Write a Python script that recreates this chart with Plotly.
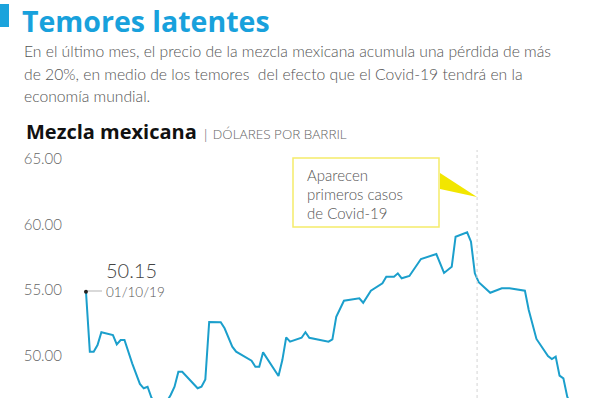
import pandas as pd
import plotly.graph_objects as go

# ---- data ----
dates = [
    "2019-10-01", "2019-10-02", "2019-10-03", "2019-10-04", "2019-10-05", "2019-10-08",
    "2019-10-09", "2019-10-10", "2019-10-11", "2019-10-13", "2019-10-15", "2019-10-16",
    "2019-10-17", "2019-10-18", "2019-10-20", "2019-10-22", "2019-10-23", "2019-10-24",
    "2019-10-25", "2019-10-26", "2019-10-30", "2019-10-31", "2019-11-01", "2019-11-02",
    "2019-11-05", "2019-11-06", "2019-11-08", "2019-11-09", "2019-11-13", "2019-11-14",
    "2019-11-15", "2019-11-16", "2019-11-20", "2019-11-21", "2019-11-22", "2019-11-23",
    "2019-11-26", "2019-11-27", "2019-11-28", "2019-12-03", "2019-12-04", "2019-12-05",
    "2019-12-07", "2019-12-11", "2019-12-12", "2019-12-14", "2019-12-17", "2019-12-18",
    "2019-12-20", "2019-12-21", "2019-12-22", "2019-12-24", "2019-12-27", "2019-12-31",
    "2020-01-02", "2020-01-04", "2020-01-05", "2020-01-08", "2020-01-09", "2020-01-10",
    "2020-01-11", "2020-01-14", "2020-01-17", "2020-01-19", "2020-01-23", "2020-01-24",
    "2020-01-26", "2020-01-29", "2020-01-30", "2020-01-31", "2020-02-01", "2020-02-02",
    "2020-02-03", "2020-02-04",
]
prices = [
    54.87, 50.30, 50.30, 50.81, 51.78, 51.57,
    50.86, 51.19, 51.19, 49.41, 47.84, 47.51,
    47.63, 46.80, 46.05, 46.50, 47.00, 47.63,
    48.77, 48.77, 47.51, 47.63, 48.19, 52.56,
    52.54, 52.08, 50.68, 50.30, 49.61, 49.15,
    49.15, 50.25, 48.45, 49.66, 51.39, 51.06,
    51.36, 51.78, 51.36, 51.06, 51.24, 52.96,
    54.18, 54.37, 54.03, 54.95, 55.51, 56.01,
    56.01, 56.27, 55.89, 56.07, 57.36, 57.74,
    56.30, 56.78, 59.06, 59.40, 58.68, 56.27,
    55.59, 54.79, 55.13, 55.13, 54.95, 53.48,
    51.27, 49.97, 49.74, 49.92, 48.47, 48.27,
    46.87, 46.20,
]
y_ticks = [50, 55, 60, 65]
covid_date = "2020-01-10 14:00"

title = "Temores latentes"
desc_lines = [
    "En el último mes, el precio de la mezcla mexicana acumula una pérdida de más",
    "de 20%, en medio de los temores  del efecto que el Covid-19 tendrá en la",
    "economía mundial.",
]
callout_lines = ["Aparecen", "primeros casos", "de Covid-19"]

W, H = 598, 398
L, T = 66, 150
PW, PH = W - L, H - T


def px(x):
    return (x - L) / PW


def py(y):
    return (H - y) / PH


FONT = "Lato"
fig = go.Figure()
fig.add_trace(go.Scatter(x=dates, y=prices, mode="lines",
                         line=dict(color="#1b9fcc", width=2), hoverinfo="skip"))
fig.add_trace(go.Scatter(x=dates[:1], y=prices[:1], mode="markers",
                         marker=dict(color="#222", size=4), hoverinfo="skip"))

shapes = [
    dict(type="rect", xref="paper", yref="paper", x0=px(0), x1=px(9), y0=py(27), y1=py(4),
         fillcolor="#1ba3dc", line=dict(width=0)),
    dict(type="line", xref="x", yref="paper", x0=covid_date, x1=covid_date, y0=0, y1=1,
         line=dict(color="#d5d5d5", width=1, dash="dot")),
    dict(type="line", xref="paper", yref="paper", x0=px(88), x1=px(102), y0=py(291), y1=py(291),
         line=dict(color="#cccccc", width=1.5)),
    dict(type="path", xref="paper", yref="paper",
         path=f"M {px(440)} {py(173)} L {px(477)} {py(197)} L {px(440)} {py(189)} Z",
         fillcolor="#f2e600", line=dict(width=0)),
    dict(type="rect", xref="paper", yref="paper", x0=px(293), x1=px(439), y0=py(227), y1=py(158),
         fillcolor="white", line=dict(color="#f5ec6a", width=1.5)),
]

ann = []
ann.append(dict(text=f"<b>{title}</b>", x=px(20), y=py(0), xanchor="left", yanchor="top",
                font=dict(family="Open Sans", size=28.5, color="#18a1dc", weight=800)))
for i, line in enumerate(desc_lines):
    ann.append(dict(text=line, x=px(22), y=py(51 + 22.5 * i), xanchor="left", yanchor="middle",
                    font=dict(family=FONT, size=15.7, color="#555", weight=300)))
ann.append(dict(text="<b>Mezcla mexicana</b> <span style='font-size:13.5px;color:#666;font-weight:300'>| DÓLARES POR BARRIL</span>",
                x=px(24), y=py(131), xanchor="left", yanchor="middle",
                font=dict(family="Open Sans", size=20, color="#111", weight=800)))
ann.append(dict(text="50.15", x=px(104), y=py(270), xanchor="left", yanchor="middle",
                font=dict(family=FONT, size=20, color="#444", weight=300)))
ann.append(dict(text="01/10/19", x=px(104), y=py(292), xanchor="left", yanchor="middle",
                font=dict(family=FONT, size=13.5, color="#555", weight=300)))
for i, line in enumerate(callout_lines):
    ann.append(dict(text=line, x=px(305), y=py(175 + 19 * i), xanchor="left", yanchor="middle",
                    font=dict(family=FONT, size=15, color="#555", weight=300)))
for a in ann:
    a.update(xref="paper", yref="paper", showarrow=False)

fig.update_layout(
    width=W, height=H, margin=dict(l=L, r=0, t=T, b=0),
    paper_bgcolor="white", plot_bgcolor="white", showlegend=False,
    shapes=shapes, annotations=ann,
    xaxis=dict(range=["2019-09-25 19:26", "2020-02-10 23:45"], showgrid=False, zeroline=False,
               showticklabels=False, showline=False, ticks=""),
    yaxis=dict(range=[46.77, 65.67], tickvals=y_ticks, tickformat=".2f", showgrid=False,
               zeroline=False, showline=False, ticks="", ticklabelstandoff=3,
               tickfont=dict(family=FONT, size=15, color="#666", weight=300)),
)
fig.write_html("out.html", config={"displayModeBar": False},
               post_script="document.body.style.margin='0';")
